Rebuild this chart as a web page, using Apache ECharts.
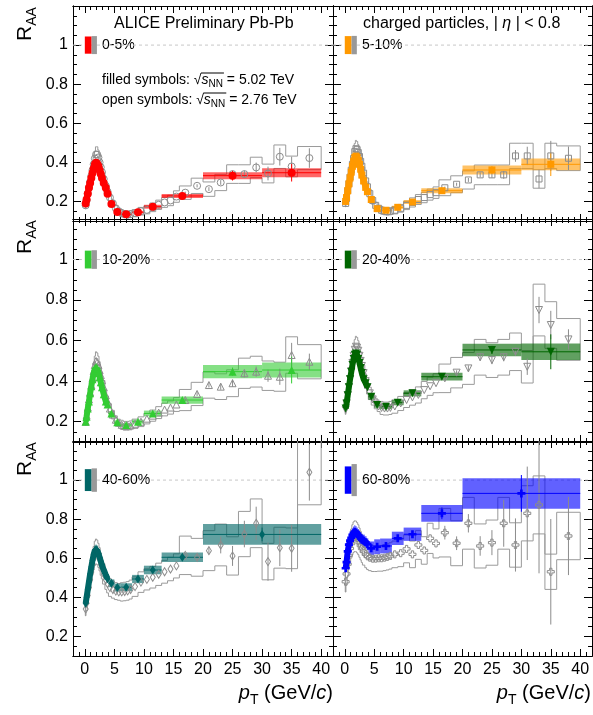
<!DOCTYPE html>
<html>
<head>
<meta charset="utf-8">
<script src="https://cdn.jsdelivr.net/npm/echarts@6.0.0/dist/echarts.min.js"></script>
<style>
  html, body { margin: 0; padding: 0; background: #fff; }
  #main { width: 593px; height: 715px; }
</style>
</head>
<body>
<div id="main"></div>
<script>
const FONT = '"Liberation Sans", Arial, sans-serif';

// pT points (GeV/c) and bin edges, 5.02 TeV (0-40% and 40-80% binning) and 2.76 TeV
const ptA = [0.15,0.3,0.5,0.7,0.9,1.1,1.3,1.5,1.7,1.9,2.1,2.3,2.5,2.7,2.9,3.2,3.55,3.85,4.5,5.5,7,9,11.5,16.5,25,35];
const edgesA = [0.1,0.2,0.4,0.6,0.8,1.0,1.2,1.4,1.6,1.8,2.0,2.2,2.4,2.6,2.8,3.0,3.4,3.7,4.0,5,6,8,10,13,20,30,40];
const ptAp = [0.15,0.3,0.5,0.7,0.9,1.1,1.3,1.5,1.7,1.9,2.1,2.3,2.5,2.7,2.9,3.2,3.55,3.85,4.5,5.5,7,9,11.5,16.5,30];
const edgesAp = [0.1,0.2,0.4,0.6,0.8,1.0,1.2,1.4,1.6,1.8,2.0,2.2,2.4,2.6,2.8,3.0,3.4,3.7,4.0,5,6,8,10,13,20,40];
const ptB = [0.15,0.3,0.5,0.7,0.9,1.1,1.3,1.5,1.7,1.9,2.1,2.3,2.5,2.7,2.9,3.2,3.55,3.85,4.25,4.75,5.25,5.75,6.25,6.75,7.25,7.75,8.5,9.5,10.5,11.5,12.5,13.5,14.5,15.5,17,19,21,23,25,27,29,31,33,35,38];
const edgesB = [0.1,0.2,0.4,0.6,0.8,1.0,1.2,1.4,1.6,1.8,2.0,2.2,2.4,2.6,2.8,3.0,3.4,3.7,4.0,4.5,5.0,5.5,6.0,6.5,7.0,7.5,8,9,10,11,12,13,14,15,16,18,20,22,24,26,28,30,32,34,36,40];
const TAIL_A = 18; // first 5.02 point with separate error bars (4.5 GeV/c)
const TAIL_B = 34; // first 2.76 point with visible stat. error (17 GeV/c)

// tick labels
const xTicks = [0,5,10,15,20,25,30,35,40];
const yTicks = [0.2,0.4,0.6,0.8,1];

// 5.02 TeV R_AA (filled)
const raa502_0_5   = [0.19,0.21,0.24,0.27,0.295,0.32,0.345,0.368,0.39,0.398,0.392,0.38,0.36,0.34,0.32,0.295,0.27,0.24,0.187,0.146,0.134,0.145,0.173,0.228,0.332,0.347];
const raa502_5_10  = [0.20,0.22,0.255,0.29,0.32,0.35,0.38,0.405,0.425,0.432,0.425,0.41,0.39,0.365,0.335,0.305,0.272,0.25,0.21,0.163,0.155,0.17,0.197,0.255,0.361,0.39];
const raa502_10_20 = [0.2,0.225,0.265,0.3,0.34,0.375,0.41,0.44,0.462,0.47,0.462,0.445,0.42,0.395,0.37,0.335,0.3,0.285,0.241,0.197,0.184,0.2,0.241,0.307,0.447,0.455];
const raa502_20_40 = [0.265,0.29,0.33,0.37,0.41,0.445,0.48,0.51,0.53,0.537,0.53,0.51,0.49,0.465,0.44,0.41,0.39,0.37,0.323,0.282,0.274,0.294,0.34,0.422,0.554,0.545];
const raa502_40_60 = [0.37,0.40,0.44,0.48,0.52,0.555,0.59,0.62,0.64,0.645,0.64,0.625,0.605,0.585,0.565,0.54,0.515,0.495,0.472,0.45,0.452,0.494,0.54,0.605,0.722];
const raa502_60_80 = [0.549,0.58,0.635,0.67,0.69,0.705,0.72,0.73,0.736,0.732,0.725,0.717,0.71,0.703,0.695,0.69,0.682,0.672,0.651,0.659,0.663,0.702,0.723,0.83,0.932];

// 5.02 TeV stat. and syst. uncertainties from 4.5 GeV/c up (absolute)
const stat502_0_5   = [0.002,0.002,0.002,0.003,0.004,0.006,0.025,0.045];
const sys502_0_5    = [0.009,0.007,0.007,0.007,0.01,0.01,0.018,0.023];
const stat502_5_10  = [0.002,0.002,0.002,0.003,0.004,0.007,0.02,0.06];
const sys502_5_10   = [0.01,0.008,0.008,0.008,0.01,0.013,0.023,0.03];
const stat502_10_20 = [0.002,0.002,0.003,0.004,0.005,0.008,0.02,0.066];
const sys502_10_20  = [0.012,0.01,0.009,0.01,0.014,0.018,0.033,0.037];
const stat502_20_40 = [0.003,0.003,0.003,0.004,0.006,0.01,0.02,0.086];
const sys502_20_40  = [0.015,0.013,0.012,0.013,0.015,0.019,0.031,0.041];
const stat502_40_60 = [0.003,0.004,0.005,0.007,0.009,0.012,0.035];
const sys502_40_60  = [0.02,0.02,0.02,0.021,0.022,0.024,0.053];
const stat502_60_80 = [0.005,0.006,0.008,0.012,0.015,0.03,0.094];
const sys502_60_80  = [0.035,0.038,0.038,0.034,0.034,0.043,0.078];
// relative syst. below 4.5 GeV/c, per centrality
const sysLow502 = [0.04,0.04,0.04,0.04,0.04,0.045];

// 2.76 TeV R_AA (open)
const raa276_0_5   = [0.18,0.205,0.24,0.27,0.30,0.33,0.36,0.39,0.42,0.44,0.44,0.425,0.40,0.375,0.35,0.315,0.28,0.25,0.22,0.19,0.165,0.15,0.14,0.135,0.133,0.135,0.14,0.15,0.157,0.17,0.183,0.195,0.205,0.225,0.245,0.28,0.263,0.297,0.34,0.34,0.374,0.343,0.429,0.379,0.422];
const raa276_5_10  = [0.19,0.215,0.255,0.29,0.325,0.36,0.39,0.42,0.455,0.47,0.465,0.45,0.43,0.405,0.38,0.345,0.305,0.275,0.24,0.205,0.18,0.165,0.155,0.15,0.148,0.15,0.155,0.165,0.18,0.195,0.21,0.22,0.235,0.245,0.27,0.288,0.31,0.336,0.336,0.336,0.433,0.433,0.315,0.433,0.421];
const raa276_10_20 = [0.2,0.23,0.27,0.31,0.345,0.38,0.415,0.45,0.48,0.5,0.495,0.48,0.455,0.43,0.405,0.37,0.33,0.30,0.265,0.235,0.21,0.195,0.185,0.18,0.18,0.182,0.19,0.2,0.215,0.23,0.245,0.26,0.27,0.285,0.307,0.337,0.381,0.373,0.39,0.439,0.447,0.427,0.422,0.529,0.496];
const raa276_20_40 = [0.26,0.29,0.33,0.37,0.41,0.45,0.49,0.525,0.555,0.57,0.565,0.55,0.525,0.5,0.475,0.44,0.4,0.37,0.34,0.31,0.29,0.275,0.268,0.265,0.265,0.268,0.275,0.29,0.307,0.32,0.332,0.356,0.375,0.39,0.414,0.442,0.463,0.518,0.504,0.518,0.545,0.471,0.751,0.677,0.606];
const raa276_40_60 = [0.34,0.37,0.41,0.45,0.49,0.53,0.57,0.60,0.625,0.635,0.63,0.615,0.595,0.57,0.55,0.52,0.49,0.47,0.45,0.44,0.432,0.428,0.428,0.43,0.433,0.44,0.455,0.478,0.492,0.503,0.518,0.531,0.545,0.561,0.615,0.605,0.639,0.668,0.612,0.724,0.779,0.583,0.654,0.651,1.04];
const raa276_60_80 = [0.48,0.52,0.57,0.615,0.65,0.675,0.695,0.708,0.713,0.712,0.705,0.695,0.68,0.665,0.65,0.635,0.62,0.61,0.603,0.598,0.598,0.6,0.6,0.603,0.607,0.612,0.62,0.626,0.648,0.62,0.668,0.64,0.702,0.676,0.731,0.677,0.779,0.663,0.68,0.779,0.668,0.83,0.873,0.531,0.714];

// 2.76 TeV stat. errors from 17 GeV/c up (absolute)
const stat276_0_5   = [0.005,0.008,0.01,0.012,0.015,0.018,0.025,0.035,0.045,0.05,0.05];
const stat276_5_10  = [0.006,0.008,0.01,0.012,0.015,0.02,0.03,0.047,0.047,0.077,0.06];
const stat276_10_20 = [0.008,0.01,0.012,0.015,0.018,0.02,0.025,0.03,0.04,0.06,0.04];
const stat276_20_40 = [0.01,0.012,0.015,0.018,0.02,0.02,0.02,0.04,0.065,0.07,0.05];
const stat276_40_60 = [0.01,0.015,0.02,0.043,0.051,0.068,0.085,0.098,0.094,0.12,0.145];
const stat276_60_80 = [0.035,0.035,0.047,0.05,0.064,0.12,0.136,0.239,0.35,0.27,0.2];
// 2.76 TeV relative syst. for pT < 6, 6-16, > 16 GeV/c
const sys276_0_5   = [0.09,0.13,0.14];
const sys276_5_10  = [0.09,0.12,0.15];
const sys276_10_20 = [0.09,0.12,0.17];
const sys276_20_40 = [0.09,0.12,0.17];
const sys276_40_60 = [0.10,0.11,0.16];
const sys276_60_80 = [0.11,0.11,0.17];

// normalisation uncertainty boxes at R_AA = 1
const norm502 = [0.044,0.046,0.044,0.044,0.056,0.07];
const norm276 = [0.046,0.047,0.046,0.046,0.06,0.082];

const CROSS = 'path://M3,0H6V3H9V6H6V9H3V6H0V3H3Z';
const panels = [
  {name:'0-5%',   color:'#ff0000', box:'rgba(255,0,0,0.6)',    sym:'circle',   size:8, a:raa502_0_5,   aStat:stat502_0_5,   aSys:sys502_0_5,   b:raa276_0_5,   bStat:stat276_0_5,   bSys:sys276_0_5,   periph:false},
  {name:'5-10%',  color:'#ff9900', box:'rgba(255,153,0,0.6)',  sym:'rect',     size:7, a:raa502_5_10,  aStat:stat502_5_10,  aSys:sys502_5_10,  b:raa276_5_10,  bStat:stat276_5_10,  bSys:sys276_5_10,  periph:false},
  {name:'10-20%', color:'#33cc33', box:'rgba(51,204,51,0.6)',  sym:'triangle', size:8, a:raa502_10_20, aStat:stat502_10_20, aSys:sys502_10_20, b:raa276_10_20, bStat:stat276_10_20, bSys:sys276_10_20, periph:false},
  {name:'20-40%', color:'#006600', box:'rgba(0,102,0,0.62)',   sym:'triangle', rot:180, size:8, a:raa502_20_40, aStat:stat502_20_40, aSys:sys502_20_40, b:raa276_20_40, bStat:stat276_20_40, bSys:sys276_20_40, periph:false},
  {name:'40-60%', color:'#006666', box:'rgba(0,102,102,0.62)', sym:'diamond',  size:[6,9], a:raa502_40_60, aStat:stat502_40_60, aSys:sys502_40_60, b:raa276_40_60, bStat:stat276_40_60, bSys:sys276_40_60, periph:true},
  {name:'60-80%', color:'#0000ff', box:'rgba(0,0,255,0.62)',   sym:CROSS,      size:8, a:raa502_60_80, aStat:stat502_60_80, aSys:sys502_60_80, b:raa276_60_80, bStat:stat276_60_80, bSys:sys276_60_80, periph:true}
];

const gridPos = [[73,6,260,215],[333,6,259,215],[73,219,260,223],[333,219,259,223],[73,441,260,215],[333,441,259,215]];
const GRAY = '#8c8c8c';

const xMinor = []; for (let v = -1; v <= 41; v++) xMinor.push(v);
const yMinor = []; for (let k = 3; k <= 23; k++) yMinor.push(+(k * 0.05).toFixed(2));

const mctx = document.createElement('canvas').getContext('2d');
function tw(t, font) { mctx.font = font; return mctx.measureText(t).width; }

// lays text pieces along a baseline, returns elements and x positions
function run(x, base, segs) {
  const els = [], xs = [];
  let cx = x;
  segs.forEach(s => {
    const font = (s.italic ? 'italic ' : '') + s.size + 'px ' + FONT;
    xs.push(cx);
    els.push({type:'text', x:cx, y:base + (s.dy || 0) - 0.35 * s.size, silent:true,
      style:{text:s.t, font:font, fill:'#000', align:'left', verticalAlign:'middle', textAlign:'left', textVerticalAlign:'middle'}});
    cx += tw(s.t, font);
  });
  xs.push(cx);
  return {els, xs, width: cx - x};
}

// 2.76 TeV syst. drawn as a stepped outline: top, bottom and the joins to the previous bin
function outlineBox(params, api) {
  const a = api.coord([api.value(0), api.value(3)]);
  const b = api.coord([api.value(1), api.value(2)]);
  const st = {stroke:'#9a9a9a', lineWidth:1, fill:'none'};
  const ph = api.coord([api.value(0), api.value(6)])[1];
  const pl = api.coord([api.value(0), api.value(5)])[1];
  const ch = [
    {type:'line', shape:{x1:a[0], y1:a[1], x2:b[0], y2:a[1]}, style:st},
    {type:'line', shape:{x1:a[0], y1:b[1], x2:b[0], y2:b[1]}, style:st},
    {type:'line', shape:{x1:a[0], y1:ph, x2:a[0], y2:a[1]}, style:st},
    {type:'line', shape:{x1:a[0], y1:pl, x2:a[0], y2:b[1]}, style:st}
  ];
  if (api.value(4) === 1) ch.push({type:'line', shape:{x1:b[0], y1:a[1], x2:b[0], y2:b[1]}, style:st});
  return {type:'group', children:ch};
}
function fillBox(color) {
  return function (params, api) {
    const a = api.coord([api.value(0), api.value(3)]);
    const b = api.coord([api.value(1), api.value(2)]);
    return {type:'rect', shape:{x:a[0], y:a[1], width:b[0] - a[0], height:b[1] - a[1]}, style:{fill:color}};
  };
}
function errBar(color) {
  return function (params, api) {
    const x = api.value(0), y = api.value(1);
    const p1 = api.coord([x, api.value(2)]), p2 = api.coord([x, api.value(3)]);
    const ch = [{type:'line', shape:{x1:p1[0], y1:p1[1], x2:p2[0], y2:p2[1]}, style:{stroke:color, lineWidth:1}}];
    if (api.value(5) > api.value(4)) {
      const q1 = api.coord([api.value(4), y]), q2 = api.coord([api.value(5), y]);
      ch.push({type:'line', shape:{x1:q1[0], y1:q1[1], x2:q2[0], y2:q2[1]}, style:{stroke:color, lineWidth:1}});
    }
    return {type:'group', children:ch};
  };
}
function sysLvl(lv, x) { return x < 6 ? lv[0] : (x < 16 ? lv[1] : lv[2]); }

const grid = [], xAxis = [], yAxis = [], series = [], graphic = [];

panels.forEach((p, g) => {
  const [L, T, W, H] = gridPos[g];
  grid.push({left:L, top:T, width:W, height:H});
  const isLeft = g % 2 === 0, isBottom = g >= 4;
  const line = {show:true, onZero:false, lineStyle:{color:'#000', width:1}};
  const lab = {fontSize:16, color:'#000', fontFamily:FONT};
  ['bottom', 'top'].forEach(pos => {
    xAxis.push({gridIndex:g, type:'value', min:-2, max:42, position:pos, splitLine:{show:false}, axisLine:line,
      axisTick:{inside:true, length:7, customValues:xTicks, lineStyle:{color:'#000'}},
      axisLabel:Object.assign({show:isBottom && pos === 'bottom', customValues:xTicks, margin:6}, lab)});
    xAxis.push({gridIndex:g, type:'value', min:-2, max:42, position:pos, splitLine:{show:false}, axisLine:line,
      axisTick:{inside:true, length:4, customValues:xMinor, lineStyle:{color:'#000'}}, axisLabel:{show:false}});
  });
  ['left', 'right'].forEach(pos => {
    yAxis.push({gridIndex:g, type:'value', min:0.1, max:1.2, position:pos, splitLine:{show:false}, axisLine:line,
      axisTick:{inside:true, length:8, customValues:yTicks, lineStyle:{color:'#000'}},
      axisLabel:Object.assign({show:isLeft && pos === 'left', customValues:yTicks, margin:5}, lab)});
    yAxis.push({gridIndex:g, type:'value', min:0.1, max:1.2, position:pos, splitLine:{show:false}, axisLine:line,
      axisTick:{inside:true, length:4, customValues:yMinor, lineStyle:{color:'#000'}}, axisLabel:{show:false}});
  });
  const ax = {xAxisIndex:4 * g, yAxisIndex:4 * g, silent:true, animation:false};
  const pA = p.periph ? ptAp : ptA, eA = p.periph ? edgesAp : edgesA;

  // dashed line at unity
  series.push(Object.assign({type:'line', data:[[-2, 1], [42, 1]], showSymbol:false, z:1,
    lineStyle:{color:'#c8c8c8', width:1, type:[3, 3]}}, ax));

  // 2.76 TeV syst. (open stepped outline)
  const boxB = ptB.map((x, k) => {
    const v = p.b[k], s = v * sysLvl(p.bSys, x);
    let prevLo = v + s, prevHi = v - s;
    if (k > 0) {
      const pv = p.b[k - 1], ps = pv * sysLvl(p.bSys, ptB[k - 1]);
      prevLo = pv - ps; prevHi = pv + ps;
    }
    return [edgesB[k], edgesB[k + 1], v - s, v + s, k === ptB.length - 1 ? 1 : 0, prevLo, prevHi];
  });
  series.push(Object.assign({type:'custom', renderItem:outlineBox, data:boxB, clip:true, z:2}, ax));

  // 5.02 TeV syst. boxes (filled)
  const boxA = pA.map((x, k) => {
    const v = p.a[k];
    const s = k < TAIL_A ? v * sysLow502[g] : p.aSys[k - TAIL_A];
    return [eA[k], eA[k + 1], v - s, v + s];
  });
  series.push(Object.assign({type:'custom', renderItem:fillBox(p.box), data:boxA, clip:true, z:3}, ax));

  // normalisation boxes
  series.push(Object.assign({type:'custom', renderItem:fillBox(p.color), data:[[0, 1.15, 1 - norm502[g], 1 + norm502[g]]], clip:true, z:3}, ax));
  series.push(Object.assign({type:'custom', renderItem:fillBox('#999'), data:[[1.15, 2.05, 1 - norm276[g], 1 + norm276[g]]], clip:true, z:3}, ax));

  // 2.76 TeV stat. errors
  const errB = p.bStat.map((e, j) => { const k = TAIL_B + j; return [ptB[k], p.b[k], p.b[k] - e, p.b[k] + e, 0, 0]; });
  series.push(Object.assign({type:'custom', renderItem:errBar(GRAY), data:errB, clip:true, z:4}, ax));

  // 5.02 TeV stat. errors + bin widths
  const errA = p.aStat.map((e, j) => { const k = TAIL_A + j; return [pA[k], p.a[k], p.a[k] - e, p.a[k] + e, eA[k], eA[k + 1]]; });
  series.push(Object.assign({type:'custom', renderItem:errBar(p.color), data:errA, clip:true, z:5}, ax));

  // 2.76 TeV markers (open)
  series.push(Object.assign({type:'scatter', data:ptB.map((x, k) => [x, p.b[k]]), symbol:p.sym, symbolRotate:p.rot || 0,
    symbolSize:Array.isArray(p.size) ? [p.size[0] - 1, p.size[1] - 1] : p.size - 1, z:6,
    itemStyle:{color:'rgba(0,0,0,0)', borderColor:GRAY, borderWidth:1, opacity:1}}, ax));

  // 5.02 TeV: dense low-pT part and markers
  series.push(Object.assign({type:'line', data:pA.slice(0, TAIL_A).map((x, k) => [x, p.a[k]]), showSymbol:false, z:7,
    lineStyle:{color:p.color, width:6}}, ax));
  series.push(Object.assign({type:'scatter', data:pA.map((x, k) => [x, p.a[k]]), symbol:p.sym, symbolRotate:p.rot || 0,
    symbolSize:p.size, z:8, itemStyle:{color:p.color, opacity:1}}, ax));

  // centrality label
  const y1 = T + 0.2 / 1.1 * H;
  run(L + 29, y1 + 5, [{t:p.name, size:14}]).els.forEach(e => graphic.push(e));
});

// header texts
run(114, 29, [{t:'ALICE Preliminary Pb-Pb', size:16}]).els.forEach(e => graphic.push(e));
run(363, 29, [{t:'charged particles, | ', size:16}, {t:'\u03b7', size:16, italic:true}, {t:' | < 0.8', size:16}]).els.forEach(e => graphic.push(e));
[['filled symbols: ', ' = 5.02 TeV', 85], ['open symbols: ', ' = 2.76 TeV', 105]].forEach(([a, b, base]) => {
  const r = run(102, base, [{t:a, size:14}, {t:'\u221a', size:14}, {t:'s', size:14, italic:true}, {t:'NN', size:10, dy:3}, {t:b, size:14}]);
  r.els.forEach(e => graphic.push(e));
  graphic.push({type:'line', silent:true, shape:{x1:r.xs[2] - 0.5, y1:base - 12, x2:r.xs[4] + 1, y2:base - 12}, style:{stroke:'#000', lineWidth:1}});
});

// axis titles
[gridPos[0], gridPos[2], gridPos[4]].forEach(([L, T]) => {
  const r = run(0, 0, [{t:'R', size:21}, {t:'AA', size:14, dy:4}]);
  graphic.push({type:'group', x:33, y:T + 35, rotation:Math.PI / 2, children:r.els, silent:true});
});
[333, 591].forEach(right => {
  const segs = [{t:'p', size:20, italic:true}, {t:'T', size:14, dy:5}, {t:' (GeV/', size:20}, {t:'c', size:20, italic:true}, {t:')', size:20}];
  const w = run(0, 0, segs).width;
  run(right - w, 700, segs).els.forEach(e => graphic.push(e));
});

const chart = echarts.init(document.getElementById('main'), null, {renderer:'canvas'});
chart.setOption({
  animation:false,
  backgroundColor:'#fff',
  grid, xAxis, yAxis, series,
  graphic:{elements:graphic}
});
</script>
</body>
</html>
